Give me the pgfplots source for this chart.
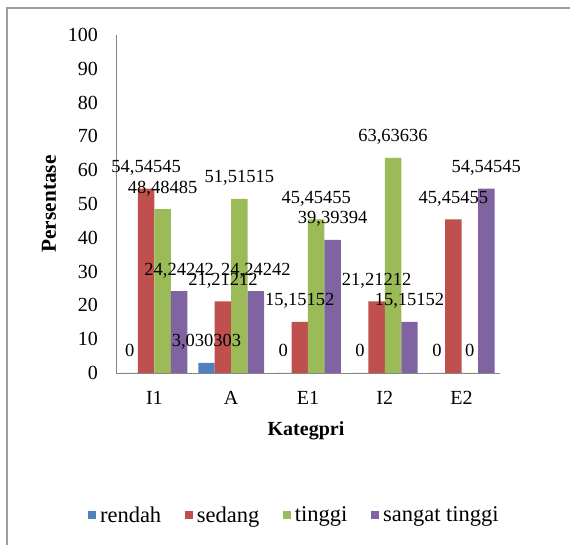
\documentclass[border=0pt]{standalone}
\usepackage{pgfplots}
\pgfplotsset{compat=1.18}
\usepackage{pgfplotstable}
\usepackage{fontspec}
\setmainfont{Liberation Serif}
\definecolor{cBlue}{HTML}{4F81BD}
\definecolor{cRed}{HTML}{C0504D}
\definecolor{cGreen}{HTML}{9BBB59}
\definecolor{cPurple}{HTML}{8064A2}
\definecolor{cAxis}{HTML}{868686}

\pgfplotstableread{
x y label
0 0 0
1 3.030303 3,030303
2 0 0
3 0 0
4 0 0
}\rendah
\pgfplotstableread{
x y label
0 54.54545 54,54545
1 21.21212 21,21212
2 15.15152 15,15152
3 21.21212 21,21212
4 45.45455 45,45455
}\sedang
\pgfplotstableread{
x y label
0 48.48485 48,48485
1 51.51515 51,51515
2 45.45455 45,45455
3 63.63636 63,63636
4 0 0
}\tinggi
\pgfplotstableread{
x y label
0 24.24242 24,24242
1 24.24242 24,24242
2 39.39394 39,39394
3 15.15152 15,15152
4 54.54545 54,54545
}\sangat

\begin{document}
\begin{tikzpicture}
\useasboundingbox (0,0) rectangle (570pt,545pt);
\draw[color=cAxis!80, line width=1.3pt] (7pt,-20pt) rectangle (590pt,537pt);
\begin{axis}[
  at={(116pt,172pt)}, anchor=south west,
  scale only axis, width=384pt, height=338pt,
  ybar, bar width=0.2143,
  xmin=-0.5, xmax=4.5, ymin=0, ymax=100,
  xtick={0,1,2,3,4}, xticklabels={I1,A,E1,I2,E2},
  ytick={0,10,...,100},
  axis x line*=bottom, axis y line*=left,
  axis line style={-, color=cAxis, line width=0.9pt},
  major tick length=0pt,
  clip=false,
  /pgf/number format/assume math mode=true,
  ticklabel style={font=\fontsize{20}{22}\selectfont, text=black},
  yticklabel style={anchor=east, inner sep=0pt, xshift=-18pt},
  xticklabel style={anchor=base, inner sep=0pt, yshift=-32pt},
  xlabel={\textbf{Kategpri}},
  ylabel={\textbf{Persentase}},
  xlabel style={at={(axis description cs:0.5,0)}, anchor=base, yshift=-63pt, xshift=-2pt, font=\fontsize{20}{22}\selectfont},
  ylabel style={at={(axis description cs:-0.1745,0.5)}, anchor=center, font=\fontsize{21.3}{23}\selectfont},
  point meta=explicit symbolic,
  nodes near coords,
  every node near coord/.append style={anchor=base, inner sep=0pt, yshift=16pt, font=\fontsize{18.5}{20}\selectfont, text=black},
  legend columns=4,
  legend image code/.code={\fill[#1,draw=none] (0pt,-4pt) rectangle (8pt,4pt);},
  legend style={draw=none, fill=none, at={(axis description cs:0.467,-0.42)}, anchor=center,
    font=\fontsize{22.5}{25}\selectfont,
    nodes={inner xsep=4.3pt},
    /tikz/every even column/.append style={column sep=19pt}},
]
\addplot[fill=cBlue, draw=none, bar shift=-0.3214] table[x=x,y=y,meta=label]{\rendah};
\addplot[fill=cRed, draw=none, bar shift=-0.1071] table[x=x,y=y,meta=label]{\sedang};
\addplot[fill=cGreen, draw=none, bar shift=0.1071] table[x=x,y=y,meta=label]{\tinggi};
\addplot[fill=cPurple, draw=none, bar shift=0.3214] table[x=x,y=y,meta=label]{\sangat};
\legend{rendah, sedang, tinggi, sangat tinggi}
\end{axis}
\end{tikzpicture}
\end{document}
